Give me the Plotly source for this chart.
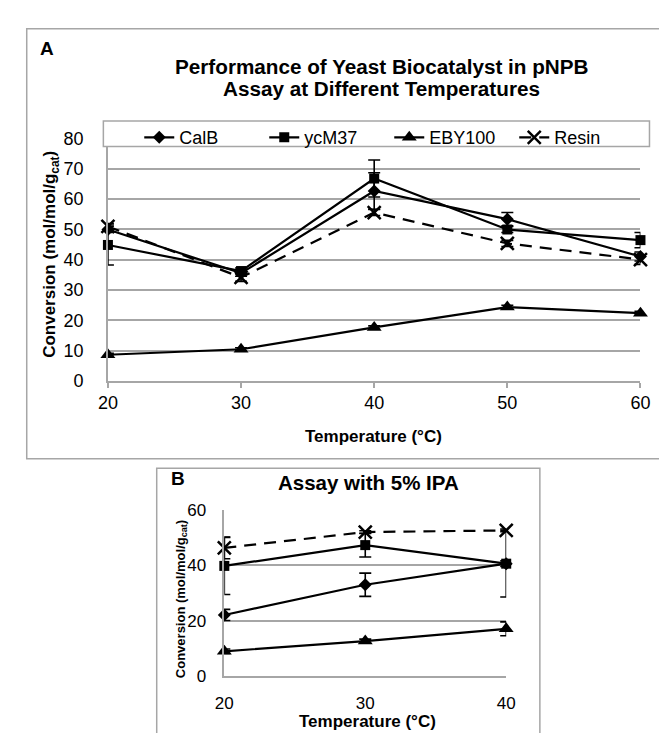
import plotly.graph_objects as go

W, H = 667, 733
FONT = "Liberation Sans, Arial, sans-serif"

# ---------------- Data: Panel A ----------------
temps_a = [20, 30, 40, 50, 60]
calb_a = [50.0, 35.6, 62.7, 53.4, 41.1]
calb_a_err = [1.0, 1.0, 6.0, 2.2, 1.5]
ycm37_a = [44.9, 36.3, 66.8, 50.0, 46.5]
ycm37_a_err = [6.6, 1.0, 6.1, 1.0, 2.5]
eby100_a = [8.7, 10.5, 17.7, 24.4, 22.4]
eby100_a_err = [0.5, 0.5, 0.5, 0.6, 0.6]
resin_a = [51.0, 34.2, 55.6, 45.4, 40.1]
resin_a_err = [1.0, 1.3, 1.0, 1.0, 1.6]

# ---------------- Data: Panel B ----------------
temps_b = [20, 30, 40]
calb_b = [22.1, 33.0, 40.6]
calb_b_err = [2.0, 4.2, 1.0]
ycm37_b = [39.8, 47.3, 40.6]
ycm37_b_err = [10.3, 4.3, 12.0]
eby100_b = [9.0, 12.7, 17.1]
eby100_b_err = [0.8, 0.7, 2.5]
resin_b = [46.3, 52.0, 52.6]
resin_b_err = [3.9, 0.5, 0.5]

series_names = ["CalB", "ycM37", "EBY100", "Resin"]


def px(x):
    return x / W


def py(y):
    return 1 - y / H


styles = {
    "CalB": dict(symbol="diamond", size=10, dash="solid"),
    "ycM37": dict(symbol="square", size=10, dash="solid"),
    "EBY100": dict(symbol="triangle-up", size=13, dash="solid"),
    "Resin": dict(symbol="x-thin", size=13, dash="12px,8px"),
}

fig = go.Figure()


def add_series(name, xs, ys, errs, xa, ya, showlegend):
    st = styles[name]
    marker = dict(symbol=st["symbol"], size=st["size"], color="black",
                  line=dict(color="black", width=2.5 if name == "Resin" else 0))
    fig.add_trace(go.Scatter(
        x=xs, y=ys, name=name, mode="lines+markers",
        line=dict(color="black", width=2.2, dash=st["dash"]),
        marker=marker,
        error_y=dict(type="data", array=errs, visible=True, color="black",
                     thickness=1.6, width=6),
        xaxis=xa, yaxis=ya, showlegend=showlegend, cliponaxis=False,
    ))


data_a = [(calb_a, calb_a_err), (ycm37_a, ycm37_a_err),
          (eby100_a, eby100_a_err), (resin_a, resin_a_err)]
data_b = [(calb_b, calb_b_err), (ycm37_b, ycm37_b_err),
          (eby100_b, eby100_b_err), (resin_b, resin_b_err)]

for name, (ys, es) in zip(series_names, data_a):
    add_series(name, temps_a, ys, es, "x", "y", True)
for name, (ys, es) in zip(series_names, data_b):
    add_series(name, temps_b, ys, es, "x2", "y2", False)

GRID = "#A6A6A6"
tickfont_a = dict(family=FONT, size=18, color="black")
tickfont_b = dict(family=FONT, size=17, color="black")

fig.update_layout(
    width=W, height=H,
    margin=dict(l=0, r=0, t=0, b=0),
    paper_bgcolor="white", plot_bgcolor="white",
    font=dict(family=FONT, color="black"),
    xaxis=dict(domain=[px(92.7), px(641.7)], range=[20, 60], tickvals=temps_a,
               showgrid=False, zeroline=False, showline=True, linecolor=GRID,
               linewidth=1.5, ticks="outside", ticklen=5, tickcolor=GRID,
               tickwidth=1.5, tickfont=tickfont_a, ticklabelstandoff=0,
               anchor="y", fixedrange=True),
    yaxis=dict(domain=[py(373.3), py(123.9)], range=[0, 80], dtick=10,
               showgrid=True, gridcolor=GRID, gridwidth=1.5, zeroline=False,
               showline=True, linecolor=GRID, linewidth=1.5, ticks="",
               tickfont=tickfont_a, ticklabelstandoff=19, anchor="x",
               fixedrange=True),
    xaxis2=dict(domain=[px(212.7), px(503.3)], range=[20, 40], tickvals=temps_b,
                showgrid=False, zeroline=False, showline=True, linecolor=GRID,
                linewidth=1.5, ticks="", tickfont=tickfont_b,
                ticklabelstandoff=11, anchor="y2", fixedrange=True),
    yaxis2=dict(domain=[py(676.7), py(505.7)], range=[0, 60], dtick=20,
                showgrid=True, gridcolor=GRID, gridwidth=1.5, zeroline=False,
                showline=True, linecolor=GRID, linewidth=1.5, ticks="",
                tickfont=tickfont_b, ticklabelstandoff=13, anchor="x2",
                fixedrange=True),
    legend=dict(orientation="h", x=px(125), y=py(104), xanchor="left",
                yanchor="top", bgcolor="rgba(0,0,0,0)", borderwidth=0,
                font=dict(family=FONT, size=18, color="black"),
                entrywidth=80, entrywidthmode="pixels", itemwidth=30,
                traceorder="normal"),
    showlegend=True,
)

shapes = [
    # Panel A frame
    dict(type="rect", xref="paper", yref="paper", x0=px(9), x1=px(666),
         y0=py(453), y1=py(11), line=dict(color=GRID, width=1.5),
         fillcolor="rgba(0,0,0,0)", layer="below"),
    # Panel B frame
    dict(type="rect", xref="paper", yref="paper", x0=px(143), x1=px(538),
         y0=py(745), y1=py(463), line=dict(color=GRID, width=1.5),
         fillcolor="rgba(0,0,0,0)", layer="below"),
    # Legend box
    dict(type="rect", xref="paper", yref="paper", x0=px(88), x1=px(651),
         y0=py(132), y1=py(106), line=dict(color=GRID, width=1.5),
         fillcolor="white", layer="above"),
]
fig.update_layout(shapes=shapes)


def ann(text, x, y, size, angle=0):
    return dict(text=text, x=px(x), y=py(y), xref="paper", yref="paper",
                showarrow=False, xanchor="center", yanchor="middle",
                textangle=angle, font=dict(family=FONT, size=size, color="black"))


annotations = [
    ann("<b>A</b>", 30, 31, 19),
    ann("<b>Performance of Yeast Biocatalyst in pNPB</b>", 375, 50, 20.7),
    ann("<b>Assay at Different Temperatures</b>", 375, 72, 20.7),
    ann("<b>Temperature (°C)</b>", 367, 430, 17),
    ann("<b>Conversion (mol/mol/g<sub>cat</sub>)</b>", 34.5, 243, 17, -90),
    ann("<b>B</b>", 165, 473, 19),
    ann("<b>Assay with 5% IPA</b>", 361, 478, 20.5),
    ann("<b>Conversion (mol/mol/g<sub>cat</sub>)</b>", 168.5, 597, 13, -90),
    ann("<b>Temperature (°C)</b>", 360, 723, 17),
]
fig.update_layout(annotations=annotations)

fig.write_html("out.html")
